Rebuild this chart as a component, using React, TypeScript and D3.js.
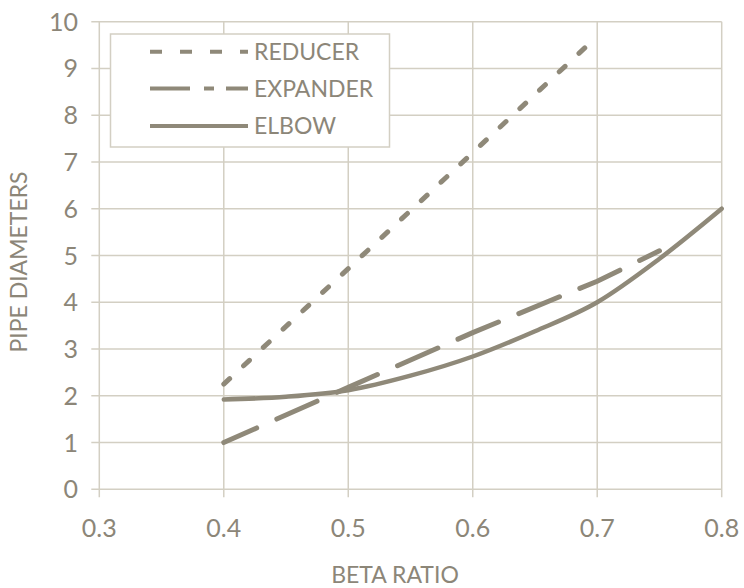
import React from "react";
import * as d3 from "d3";

const xTicks = [0.3, 0.4, 0.5, 0.6, 0.7, 0.8];
const yTicks = [0, 1, 2, 3, 4, 5, 6, 7, 8, 9, 10];

const reducerX = [0.4, 0.5, 0.6, 0.69];
const reducerY = [2.25, 4.72, 7.2, 9.44];

const expanderX = [0.4, 0.5, 0.6, 0.7, 0.75];
const expanderY = [1.0, 2.18, 3.35, 4.45, 5.1];

const elbowX = [0.4, 0.45, 0.5, 0.55, 0.6, 0.65, 0.7, 0.75, 0.8];
const elbowY = [1.92, 1.98, 2.12, 2.43, 2.84, 3.38, 4.0, 4.93, 6.0];

const seriesNames = ["REDUCER", "EXPANDER", "ELBOW"];

const W = 744;
const H = 588;
const left = 99.3;
const right = 721.7;
const top = 21.7;
const bottom = 489.3;

const LINE = "#8f8979";
const GRID = "#d3cfc3";
const TEXT = "#8c8678";
const FONT = "Lato, 'Open Sans', sans-serif";

export default function App() {
  const x = d3.scaleLinear().domain([0.3, 0.8]).range([left, right]);
  const y = d3.scaleLinear().domain([0, 10]).range([bottom, top]);

  const zip = (xs: number[], ys: number[]) => xs.map((v, i) => [v, ys[i]] as [number, number]);
  const straight = d3
    .line<[number, number]>()
    .x((d) => x(d[0]))
    .y((d) => y(d[1]));
  const smooth = d3
    .line<[number, number]>()
    .x((d) => x(d[0]))
    .y((d) => y(d[1]))
    .curve(d3.curveMonotoneX);

  const reducerPts = zip(reducerX, reducerY);
  let reducerLen = 0;
  for (let i = 1; i < reducerPts.length; i++) {
    reducerLen += Math.hypot(
      x(reducerPts[i][0]) - x(reducerPts[i - 1][0]),
      y(reducerPts[i][1]) - y(reducerPts[i - 1][1])
    );
  }
  const rDash = 8;
  const rCount = Math.max(1, Math.round((reducerLen - rDash) / 27.5));
  const rPeriod = (reducerLen - rDash) / rCount;

  const legendX0 = 150;
  const legendX1 = 248;
  const legendRows = [51.7, 88.5, 126];
  const legendDash = ["12 18", "40 14 10 12 30", ""];

  return (
    <svg
      width={W}
      height={H}
      style={{ position: "absolute", left: 0, top: 0, background: "#fff" }}
      fontFamily={FONT}
    >
      {/* grid */}
      {yTicks.map((t) => (
        <line key={"gy" + t} x1={left - 8} x2={right} y1={y(t)} y2={y(t)} stroke={GRID} strokeWidth={1.5} />
      ))}
      {xTicks.map((t) => (
        <line key={"gx" + t} x1={x(t)} x2={x(t)} y1={top} y2={bottom + 8} stroke={GRID} strokeWidth={1.5} />
      ))}

      {/* y labels */}
      {yTicks.map((t) => (
        <text key={"ly" + t} x={78} y={y(t)} dy="0.36em" textAnchor="end" fontSize={25} fill={TEXT}>
          {t}
        </text>
      ))}
      {/* x labels */}
      {xTicks.map((t) => (
        <text key={"lx" + t} x={x(t)} y={528} dy="0.36em" textAnchor="middle" fontSize={25} fill={TEXT}>
          {t.toFixed(1)}
        </text>
      ))}

      <text x={395} y={575} dy="0.36em" textAnchor="middle" fontSize={23} fill={TEXT}>
        BETA RATIO
      </text>
      <text
        transform={`translate(19,262) rotate(-90)`}
        dy="0.36em"
        textAnchor="middle"
        fontSize={23}
        fill={TEXT}
      >
        PIPE DIAMETERS
      </text>

      {/* series */}
      <path
        d={straight(reducerPts) || ""}
        fill="none"
        stroke={LINE}
        strokeWidth={5}
        strokeDasharray={`${rDash} ${rPeriod - rDash}`}
        strokeLinecap="round"
      />
      <path
        d={straight(zip(expanderX, expanderY)) || ""}
        fill="none"
        stroke={LINE}
        strokeWidth={5}
        strokeDasharray="44 22"
        strokeDashoffset={8}
        strokeLinecap="round"
      />
      <path
        d={smooth(zip(elbowX, elbowY)) || ""}
        fill="none"
        stroke={LINE}
        strokeWidth={4.5}
        strokeLinecap="round"
      />

      {/* legend */}
      <rect x={110.5} y={34} width={279} height={113} fill="#fff" stroke={GRID} strokeWidth={1.5} />
      {seriesNames.map((name, i) => (
        <g key={name}>
          <line
            x1={legendX0}
            x2={legendX1}
            y1={legendRows[i]}
            y2={legendRows[i]}
            stroke={LINE}
            strokeWidth={4}
            strokeDasharray={legendDash[i] || undefined}
          />
          <text x={254} y={legendRows[i]} dy="0.36em" fontSize={23} fill={TEXT}>
            {name}
          </text>
        </g>
      ))}
    </svg>
  );
}
